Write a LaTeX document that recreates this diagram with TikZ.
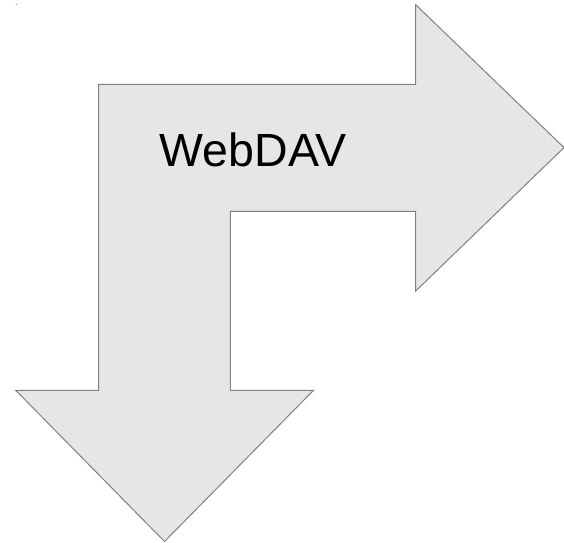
\documentclass[tikz,border=0pt]{standalone}
\usepackage{fontspec}
\setmainfont{Liberation Sans}
\definecolor{arrowfill}{RGB}{230,230,230}
\definecolor{arrowline}{RGB}{128,128,128}
\begin{document}
\begin{tikzpicture}[x=1pt,y=-1pt,
  bentarrow/.style={fill=arrowfill,draw=arrowline,line width=1pt,line join=miter}]
  \useasboundingbox (0,0) rectangle (564,542);
  \fill[arrowline] (16.3,4.3) circle (0.6);

  \filldraw[bentarrow] (98.7,84.3) -- (415.7,84.3) -- (415.7,4.7) -- (564,147.6)
    -- (415.7,291) -- (415.7,211.3) -- (230.3,211.3) -- (230.3,390.3)
    -- (313.5,390.3) -- (164.5,541.5) -- (15.7,390.3) -- (98.7,390.3) -- cycle;

  \node[anchor=base,inner sep=0pt,font=\fontsize{46.5}{56}\selectfont] (label) at (253.3,166.7) {WebDAV};
\end{tikzpicture}
\end{document}
